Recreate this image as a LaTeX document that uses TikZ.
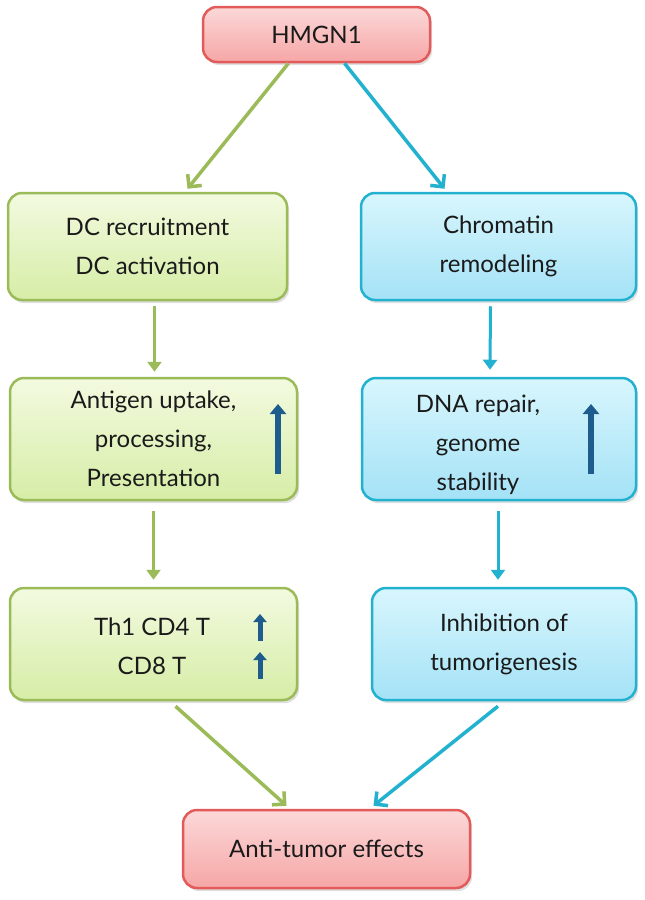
\documentclass[tikz,border=0pt]{standalone}
\usepackage{fontspec}
\setmainfont{Lato}
\usetikzlibrary{arrows.meta,shadows,calc}
\definecolor{gline}{HTML}{9BBB59}
\definecolor{gtop}{HTML}{F3FAE0}
\definecolor{gbot}{HTML}{D6EDA6}
\definecolor{bline}{HTML}{22B2D0}
\definecolor{btop}{HTML}{D8F6FD}
\definecolor{bbot}{HTML}{A4E2F6}
\definecolor{rline}{HTML}{E35A5A}
\definecolor{rtop}{HTML}{FCD8D8}
\definecolor{rbot}{HTML}{F6A6A6}
\definecolor{uparr}{HTML}{1E5C8E}
\definecolor{txt}{HTML}{1A1A1A}
\tikzset{
  box/.style={rounded corners=14pt, line width=2.5pt, align=center, inner sep=0pt,
    text=txt, drop shadow={shadow xshift=2pt, shadow yshift=-3pt, opacity=0.25}},
  gbox/.style={box, draw=gline, top color=gtop, bottom color=gbot},
  bbox/.style={box, draw=bline, top color=btop, bottom color=bbot},
  rbox/.style={box, draw=rline, top color=rtop, bottom color=rbot},
  gdiag/.style={draw=gline, line width=3.5pt, -{Straight Barb[length=9pt,width=18pt]}},
  bdiag/.style={draw=bline, line width=3.5pt, -{Straight Barb[length=9pt,width=18pt]}},
  gvert/.style={draw=gline, line width=3pt, -{Triangle[length=10pt,width=14pt]}},
  bvert/.style={draw=bline, line width=3pt, -{Triangle[length=10pt,width=14pt]}},
  bigup/.style={draw=uparr, line width=6.5pt, -{Triangle[length=10pt,width=16pt]}},
  smallup/.style={draw=uparr, line width=5pt, -{Triangle[length=8pt,width=13pt]}},
}
\begin{document}
\begin{tikzpicture}[x=1pt,y=-1pt, font=\fontsize{24}{39}\selectfont]
\useasboundingbox[fill=white] (0,0) rectangle (645,900);

\node[rbox, minimum width=227pt, minimum height=55pt] (hm) at (316.5,34.5) {HMGN1};

\node[gbox, minimum width=279pt, minimum height=107pt] (dc) at (147.5,246.5) {DC recruitment\\DC activation};
\node[bbox, minimum width=275pt, minimum height=107pt] (ch) at (498.5,246.5) {Chromatin\\remodeling};

\node[gbox, minimum width=287pt, minimum height=122pt] (ag) at (153.5,439) {Antigen uptake,\\processing,\\Presentation};
\node[bbox, minimum width=274pt, minimum height=122pt] (dna) at (499,439) {};
\node[align=center, text=txt, inner sep=0pt] (dnat) at (478,445) {DNA repair,\\genome\\stability};

\node[gbox, minimum width=287pt, minimum height=112pt] (th) at (153.5,644) {};
\node[align=center, text=txt, inner sep=0pt] (tht) at (152,646) {Th1 CD4 T\\CD8 T};
\node[bbox, minimum width=264pt, minimum height=112pt] (inh) at (504,644) {Inhibition of\\tumorigenesis};

\node[rbox, minimum width=287pt, minimum height=78pt] (at) at (326.5,849) {Anti-tumor effects};

% connectors
\draw[gdiag] ($(hm.south)+(-28,0)$) -- ($(dc.north)+(40,-3)$);
\draw[bdiag] ($(hm.south)+(28,0)$) -- ($(ch.north)+(-54,-3)$);
\draw[gvert] ($(dc.south)+(7,5)$) -- ($(ag.north)+(1,-5)$);
\draw[bvert] ($(ch.south)+(-8,5)$) -- ($(dna.north)+(-9,-7)$);
\draw[gvert] ($(ag.south)+(0,10)$) -- ($(th.north)+(0,-7)$);
\draw[bvert] ($(dna.south)+(-1,10)$) -- ($(inh.north)+(-6,-7)$);
\draw[gdiag] ($(th.south)+(22,5)$) -- ($(at.north)+(-40,-3)$);
\draw[bdiag] ($(inh.south)+(-6,5)$) -- ($(at.north)+(47,-3)$);

% up arrows
\coordinate (a1s) at (278,474); \coordinate (a1e) at (278,404);
\coordinate (a2s) at (591,474); \coordinate (a2e) at (591,404);
\coordinate (a3s) at (260,641); \coordinate (a3e) at (260,614);
\coordinate (a4s) at (260,679); \coordinate (a4e) at (260,652);
\draw[bigup] (a1s) -- (a1e);
\draw[bigup] (a2s) -- (a2e);
\draw[smallup] (a3s) -- (a3e);
\draw[smallup] (a4s) -- (a4e);
\end{tikzpicture}
\end{document}
